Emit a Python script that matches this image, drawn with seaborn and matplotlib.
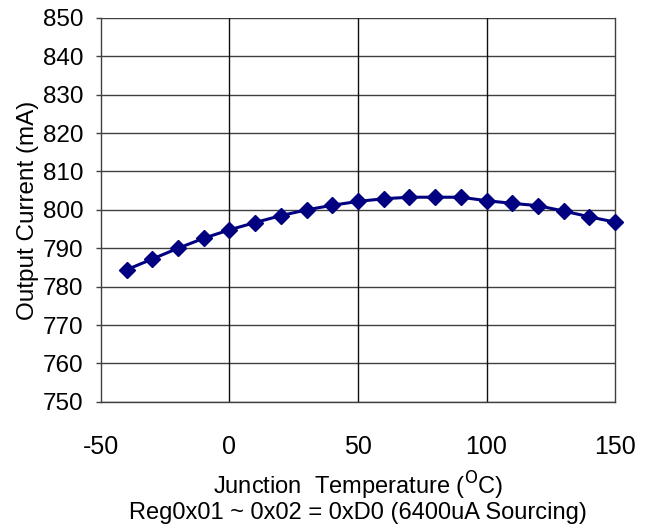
#%% Output current vs junction temperature
import pandas as pd
import seaborn as sns
import matplotlib.pyplot as plt

#%% Data

temperatura = [-40, -30, -20, -10, 0, 10, 20, 30, 40, 50,
               60, 70, 80, 90, 100, 110, 120, 130, 140, 150]
corrente = [784.4, 787.2, 790.0, 792.6, 794.8, 796.7, 798.5, 800.0, 801.2, 802.2,
            802.9, 803.3, 803.3, 803.3, 802.4, 801.7, 801.1, 799.7, 798.2, 796.8]

x_ticks = [-50, 0, 50, 100, 150]
y_ticks = list(range(750, 851, 10))

df = pd.DataFrame({'Temp': temperatura, 'Corrente': corrente})

#%% Plot

sns.set_style('white')
plt.rcParams['font.family'] = ['Liberation Sans', 'DejaVu Sans']
plt.rcParams['axes.unicode_minus'] = False
plt.rcParams['text.color'] = 'black'
plt.rcParams['axes.labelcolor'] = 'black'
plt.rcParams['xtick.color'] = 'black'
plt.rcParams['ytick.color'] = 'black'

fig = plt.figure(figsize=(6.55, 5.28), dpi=100)
ax = fig.add_axes([0.154, 0.239, 0.785, 0.727])

for v in y_ticks:
    ax.axhline(v, color='#404040', lw=1.0, zorder=1)
for v in [0, 50, 100]:
    ax.axvline(v, color='#101010', lw=1.0, zorder=1)

sns.lineplot(data=df, x='Temp', y='Corrente', ax=ax, color='#000080',
             marker='D', markersize=8, markeredgecolor='#000080', markeredgewidth=1,
             linewidth=2.2, zorder=3, clip_on=False)

ax.set_xlim(-50, 150)
ax.set_ylim(750, 850)
ax.set_xticks(x_ticks)
ax.set_yticks(y_ticks)
ax.tick_params(axis='x', length=0, pad=24, labelsize=18, labelcolor='black')
ax.tick_params(axis='y', length=3.5, width=1, direction='out', color='#404040',
               pad=9, labelsize=17.5, left=True, labelcolor='black')

for s in ['left', 'bottom', 'right']:
    ax.spines[s].set_color('#404040')
    ax.spines[s].set_linewidth(1.0)
ax.spines['top'].set_visible(False)

ax.set_xlabel('Junction  Temperature ($^{\\rm O}$C)\nReg0x01 ~ 0x02 = 0xD0 (6400uA Sourcing)',
              fontsize=17, labelpad=8, linespacing=1.0, color='black')
ax.set_ylabel('Output Current (mA)', fontsize=17.5, labelpad=3, color='black')

plt.savefig('out.png', dpi=100)
